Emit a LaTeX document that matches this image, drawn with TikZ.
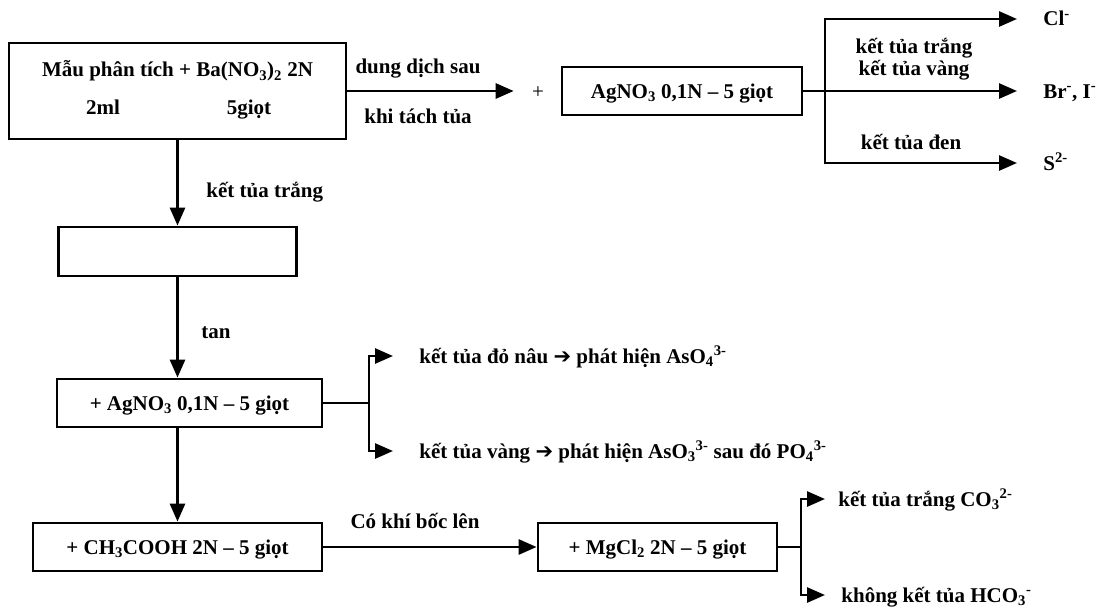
\documentclass[tikz,border=0pt]{standalone}
\usepackage{fontspec}
\setmainfont{Liberation Serif}
\newfontfamily\arrowfont{DejaVu Sans}
\usetikzlibrary{arrows.meta,positioning}
\definecolor{ink}{RGB}{0,0,0}
\tikzset{
  every picture/.style={color=ink, line width=2.8pt, font=\fontsize{21}{22}\selectfont\bfseries},
  box/.style={draw=ink, inner sep=0pt, align=center, text height=14pt, text depth=0pt},
  flow/.style={-{Triangle[length=18pt,width=15pt]}, line width=2.8pt},
  wire/.style={line width=2.8pt},
  note/.style={inner sep=0pt, align=center, text height=14pt, text depth=0pt},
  lbl/.style={note, anchor=west},
}
\newcommand{\thenarrow}{{\arrowfont\bfseries ➔}}

\begin{document}
\begin{tikzpicture}[x=1pt, y=-1pt]
  \useasboundingbox (0,0) rectangle (1097,610);
  % sample and first reagent
  \node[box, minimum width=337pt, minimum height=96pt] (mau) at (177.5,91) {};
  \node[note] (mautxt) at (177.5,70) {Mẫu phân tích + Ba(NO\textsubscript{3})\textsubscript{2} 2N};
  \node[note] (ml) at (103,107) {2ml};
  \node[note] (giot) at (249,107) {5giọt};
  \node[note] (plus) at (538,91) {\mdseries +};
  \node[note] (sau) at (418,67) {dung dịch sau};
  \node[note] (tach) at (418,116) {khi tách tủa};
  \draw[flow, shorten >=17pt] (mau.east) -- (plus.west);

  % silver nitrate on the solution
  \node[box, minimum width=240pt, minimum height=48pt] (agno) at (682,91) {AgNO\textsubscript{3} 0,1N – 5 giọt};
  \coordinate (f1) at (825,91);
  \coordinate (tcl) at (1017,19);
  \coordinate (tbr) at (1017,91);
  \coordinate (ts) at (1017,163);
  \node[lbl, right=25pt of tcl] (cl) {Cl\textsuperscript{-}};
  \node[lbl, right=25pt of tbr] (br) {Br\textsuperscript{-}, I\textsuperscript{-}};
  \node[lbl, right=25pt of ts] (sulf) {S\textsuperscript{2-}};
  \node[note] (trang1) at (914,46) {kết tủa trắng};
  \node[note] (vang1) at (914,68) {kết tủa vàng};
  \node[note] (den) at (911,142) {kết tủa đen};
  \draw[wire] (agno.east) -- (f1);
  \draw[flow] (f1) |- (tcl);
  \draw[flow] (f1) -- (tbr);
  \draw[flow] (f1) |- (ts);

  % precipitate
  \node[box, minimum width=238pt, minimum height=49pt] (rong) at (177.5,251.5) {};
  \node[lbl] (trang) at (205,190) {kết tủa trắng};
  \draw[flow] (mau.south) -- (rong.north);

  \node[box, minimum width=265pt, minimum height=48pt] (agnob) at (189.5,403) {+ AgNO\textsubscript{3} 0,1N – 5 giọt};
  \node[lbl] (tan) at (200,331) {tan};
  \draw[flow] (rong.south) -- (rong.south |- agnob.north);
  \coordinate (f2) at (369,403);
  \coordinate (tas4) at (393,356);
  \coordinate (tas3) at (393,451);
  \node[lbl, right=25pt of tas4] (as4) {kết tủa đỏ nâu \thenarrow{} phát hiện AsO\textsubscript{4}\textsuperscript{3-}};
  \node[lbl, right=25pt of tas3] (as3) {kết tủa vàng \thenarrow{} phát hiện AsO\textsubscript{3}\textsuperscript{3-} sau đó PO\textsubscript{4}\textsuperscript{3-}};
  \draw[wire] (agnob.east) -- (f2);
  \draw[flow] (f2) |- (tas4);
  \draw[flow] (f2) |- (tas3);

  % acetic acid, then magnesium chloride
  \node[box, minimum width=289pt, minimum height=48pt] (axit) at (177.5,547) {+ CH\textsubscript{3}COOH 2N – 5 giọt};
  \draw[flow] (rong.south |- agnob.south) -- (rong.south |- axit.north);
  \node[box, minimum width=239pt, minimum height=48pt] (mg) at (657.5,547) {+ MgCl\textsubscript{2} 2N – 5 giọt};
  \node[note] (khi) at (415,521) {Có khí bốc lên};
  \draw[flow] (axit) -- (mg);
  \coordinate (f3) at (801,547);
  \coordinate (tco) at (825,499);
  \coordinate (thco) at (825,595);
  \node[lbl, right=12pt of tco] (co) {kết tủa trắng CO\textsubscript{3}\textsuperscript{2-}};
  \node[lbl, right=15pt of thco] (hco) {không kết tủa HCO\textsubscript{3}\textsuperscript{-}};
  \draw[wire] (mg.east) -- (f3);
  \draw[flow] (f3) |- (tco);
  \draw[flow] (f3) |- (thco);
\end{tikzpicture}
\end{document}
